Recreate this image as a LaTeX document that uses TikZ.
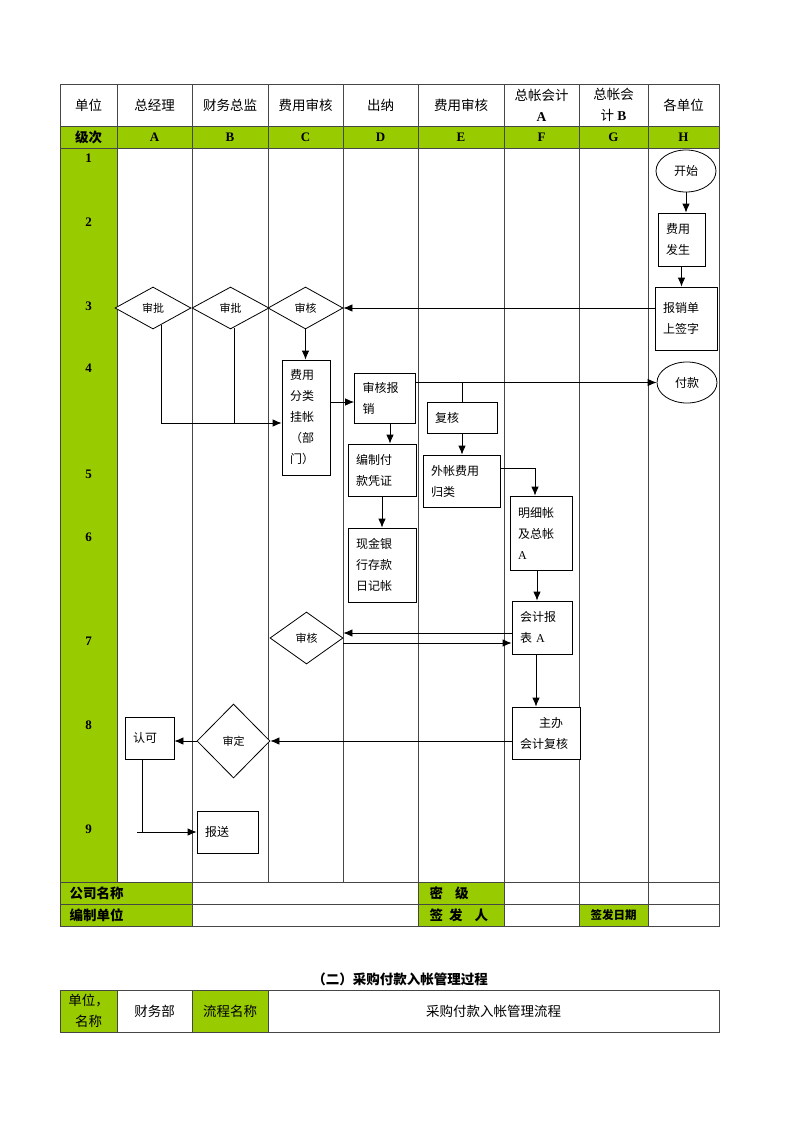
\documentclass[tikz,border=0pt]{standalone}
\usepackage{fontspec}
\setmainfont{Liberation Serif}
\newfontfamily\cjk{Noto Sans CJK SC}
\usepackage{tikz}
\usetikzlibrary{shapes.geometric,arrows.meta,calc}
\definecolor{lime}{RGB}{153,204,0}
\definecolor{rule}{RGB}{70,70,70}

\begin{document}
\begin{tikzpicture}[x=1pt,y=-1pt,
  grid/.style={draw=rule,line width=0.8pt},
  box/.style 2 args={draw,fill=white,line width=0.8pt,text width=#1,minimum height=#2,align=left,inner xsep=8pt,inner ysep=0pt,font=\cjk\fontsize{12}{21}\selectfont},
  dia/.style 2 args={diamond,draw,fill=white,line width=0.8pt,minimum width=#1,minimum height=#2,inner sep=0pt,aspect=1.8,font=\cjk\fontsize{11}{13}\selectfont},
  ell/.style={ellipse,draw,fill=white,line width=0.8pt,minimum width=60,minimum height=42,inner sep=0pt,font=\cjk\fontsize{12}{14}\selectfont},
  arr/.style={-{Latex[length=9pt,width=7.5pt]},line width=0.8pt},
  ln/.style={line width=0.8pt},
  hd/.style={font=\cjk\fontsize{13.5}{21}\selectfont,align=center},
  hdb/.style={font=\cjk\bfseries\fontsize{13.5}{21}\selectfont,align=center},
  lt/.style={font=\bfseries\fontsize{13}{15}\selectfont}]
\useasboundingbox (0,0) rectangle (800,1132);

% green cells
\fill[lime] (60,126) rectangle (719,148);
\fill[lime] (60,148) rectangle (117,882);
\fill[lime] (60,882) rectangle (192,926);
\fill[lime] (418,882) rectangle (504,926);
\fill[lime] (579,904) rectangle (648,926);

% table lines
\draw[grid] (60,84) rectangle (719,926);
\draw[grid] (60,126) -- (719,126);
\draw[grid] (60,148) -- (719,148);
\draw[grid] (60,882) -- (719,882);
\draw[grid] (60,904) -- (719,904);
\foreach \x in {117,192,268,343,418,504,579,648}
  \draw[grid] (\x,84) -- (\x,882);
\foreach \x in {192,418,504,579,648}
  \draw[grid] (\x,882) -- (\x,926);

% header row
\node[hd] (hU) at (88.5,105) {单位};
\node[hd] (hA) at (154.5,105) {总经理};
\node[hd] (hB) at (230,105) {财务总监};
\node[hd] (hC) at (305.5,105) {费用审核};
\node[hd] (hD) at (380.5,105) {出纳};
\node[hd] (hE) at (461,105) {费用审核};
\node[hd] (hF) at (541.5,105) {总帐会计\\{\rmfamily\bfseries A}};
\node[hd] (hG) at (613.5,105) {总帐会\\计 {\rmfamily\bfseries B}};
\node[hd] (hH) at (683.5,105) {各单位};

% level row
\node[hdb] (lv) at (88.5,137) {级次};
\node[lt] (lA) at (154.5,137) {A};
\node[lt] (lB) at (230,137) {B};
\node[lt] (lC) at (305.5,137) {C};
\node[lt] (lD) at (380.5,137) {D};
\node[lt] (lE) at (461,137) {E};
\node[lt] (lF) at (541.5,137) {F};
\node[lt] (lG) at (613.5,137) {G};
\node[lt] (lH) at (683.5,137) {H};

% step numbers
\node[lt] (n1) at (88.5,158) {1};
\node[lt] (n2) at (88.5,222) {2};
\node[lt] (n3) at (88.5,306) {3};
\node[lt] (n4) at (88.5,368) {4};
\node[lt] (n5) at (88.5,474) {5};
\node[lt] (n6) at (88.5,537) {6};
\node[lt] (n7) at (88.5,641) {7};
\node[lt] (n8) at (88.5,725) {8};
\node[lt] (n9) at (88.5,829) {9};

% footer rows
\node[hdb,anchor=west] (gs) at (66,893) {公司名称};
\node[hdb,anchor=west] (bd) at (66,915) {编制单位};
\node[hdb,anchor=west] (mj) at (426,893) {密\hspace{12pt}级};
\node[hdb,anchor=west] (qf) at (426,915) {签\hspace{6pt}发\hspace{12pt}人};
\node[font=\cjk\bfseries\fontsize{11.5}{14}\selectfont] (rq) at (613.5,915) {签发日期};

% flow shapes
\node[ell] (st) at (686,171) {开始};
\node[box={31pt}{53pt}] (fs) at (681.5,239.5) {费用\\发生};
\node[box={46pt}{63pt}] (bx) at (686,318.5) {报销单\\上签字};
\node[dia={76pt}{42pt}] (pa) at (153,308) {审批};
\node[dia={77pt}{42pt}] (pb) at (230.5,308) {审批};
\node[dia={75pt}{42pt}] (sc) at (305.5,308) {审核};
\node[box={32pt}{115pt}] (fl) at (306,417.5) {费用\\分类\\挂帐\\（部\\门）};
\node[box={45pt}{50pt}] (sh) at (385,398) {审核报\\销};
\node[ell,minimum height=41] (fk) at (687,382.5) {付款};
\node[box={54pt}{31pt}] (fh) at (462,417.5) {复核};
\node[box={61pt}{52pt}] (wz) at (461.5,481) {外帐费用\\归类};
\node[box={52pt}{52pt}] (bz) at (382,470) {编制付\\款凭证};
\node[box={52pt}{74pt}] (xj) at (382,565) {现金银\\行存款\\日记帐};
\node[box={46pt}{74pt}] (mx) at (541,533) {明细帐\\及总帐\\{\rmfamily A}};
\node[box={44pt}{53pt}] (kb) at (542,627.5) {会计报\\表 {\rmfamily A}};
\node[dia={73pt}{52pt}] (s7) at (306.5,638) {审核};
\node[box={52pt}{52pt}] (zb) at (546,733) {\hspace{19pt}主办\\会计复核};
\node[dia={73pt}{74pt}] (sd) at (233.5,741) {审定};
\node[box={33pt}{42pt}] (rk) at (149.5,738) {认可};
\node[box={45pt}{42pt}] (bs) at (227.5,832) {报送};

% connectors
\draw[arr] (st.south) -- (st.south |- fs.north);
\draw[arr] (fs.south) -- (fs.south |- bx.north);
\draw[arr] (bx.west |- sc.east) -- (sc.east);
\draw[arr] (sc.south) -- (sc.south |- fl.north);
\coordinate (pa1) at ([shift={(8,-4.4)}]pa.south);
\coordinate (pb1) at ([shift={(3.5,-1.9)}]pb.south);
\coordinate (fl1) at ([yshift=-5.5pt]fl.west);
\draw[arr] (pa1) |- (fl1);
\draw[ln] (pb1) -- (pb1 |- fl1);
\coordinate (sh1) at ([yshift=-4pt]sh.west);
\draw[arr] (fl.east |- sh1) -- (sh1);
\draw[arr] (sh.east |- fk.west) -- (fk.west);
\draw[ln] (fh.north |- fk.west) -- (fh.north);
\draw[arr] (fh.south) -- (fh.south |- wz.north);
\coordinate (wz1) at ([yshift=13pt]wz.east);
\coordinate (mx1) at ([xshift=-6pt]mx.north);
\draw[arr] (wz1) -| (mx1);
\coordinate (sh2) at ([xshift=5pt]sh.south);
\draw[arr] (sh2) -- (sh2 |- bz.north);
\draw[arr] (bz.south) -- (bz.south |- xj.north);
\coordinate (mx2) at ([xshift=-4pt]mx.south);
\draw[arr] (mx2) -- (mx2 |- kb.north);
\coordinate (kb1) at ([yshift=-5.5pt]kb.west);
\draw[arr] (kb1) -- (kb1 -| s7.east);
\coordinate (s71) at ([yshift=-5pt]s7.east);
\draw[arr] (s71) -- (s71 -| kb.west);
\coordinate (kb2) at ([xshift=-6pt]kb.south);
\draw[arr] (kb2) -- (kb2 |- zb.north);
\draw[arr] (zb.west |- sd.east) -- (sd.east);
\draw[arr] (sd.west) -- (sd.west -| rk.east);
\coordinate (rk1) at ([xshift=-7.5pt]rk.south);
\draw[ln] (rk1) -- (rk1 |- bs.west);
\coordinate (rk2) at ($(rk1 |- bs.west)+(-5,0)$);
\draw[arr] (rk2) -- (bs.west);

% second table
\node[hdb] (t2) at (400,979) {（二）采购付款入帐管理过程};
\fill[lime] (60,990) rectangle (117,1032);
\fill[lime] (192,990) rectangle (268,1032);
\draw[grid] (60,990) rectangle (719,1032);
\draw[grid] (117,990) -- (117,1032);
\draw[grid] (192,990) -- (192,1032);
\draw[grid] (268,990) -- (268,1032);
\node[hd] (dw) at (88.5,1011) {单位，\\名称};
\node[hd] (cw) at (154.5,1011) {财务部};
\node[hd] (lm) at (230,1011) {流程名称};
\node[hd] (lc) at (493.5,1011) {采购付款入帐管理流程};
\end{tikzpicture}
\end{document}
